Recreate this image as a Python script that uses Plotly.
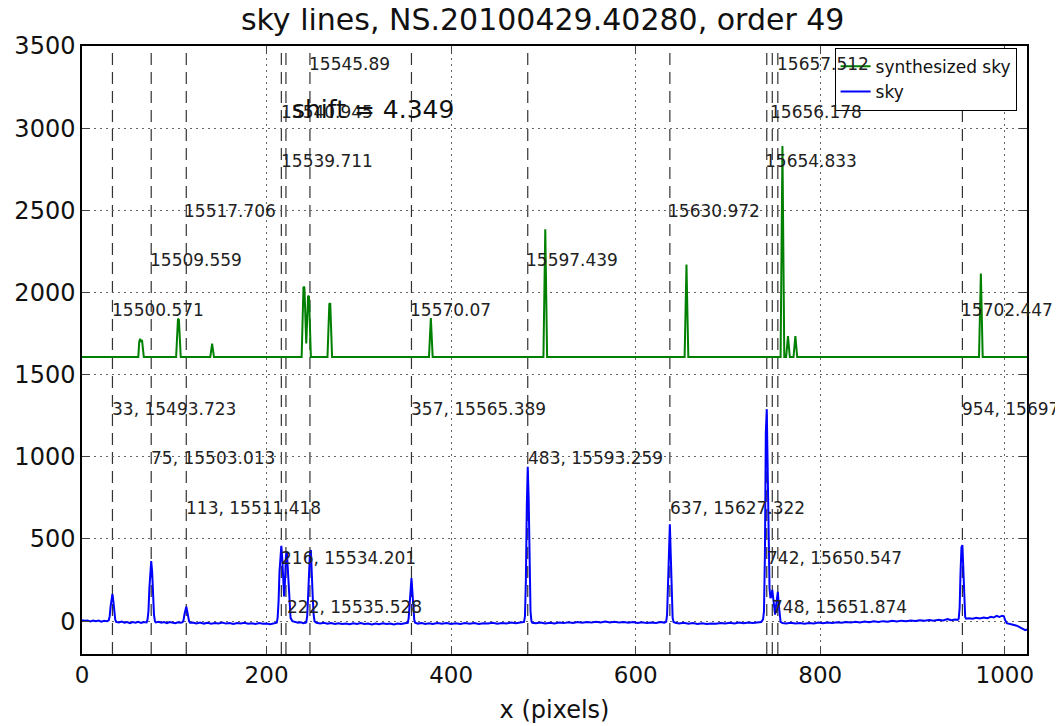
import plotly.graph_objects as go

# ---------------- data ----------------
sky_x = [0, 3, 6, 9, 12, 15, 18, 21, 24, 27, 29,
         30, 31, 32, 33, 34, 35, 36, 37,
         40, 43, 46, 49, 52, 55, 58, 61, 64, 67, 70, 71,
         72, 73, 74, 75, 76, 77, 78, 79, 80,
         83, 86, 89, 92, 95, 98, 101, 104, 107, 109,
         110, 111, 112, 113, 114, 115, 116, 117,
         120, 124, 128, 132, 136, 140, 144, 148, 152, 156, 160, 164, 168, 172, 176, 180, 184, 188, 192, 196, 200, 204, 208, 211,
         212, 213, 214, 215, 216, 217, 218, 219, 220, 221, 222, 223, 224, 225, 226, 228, 231,
         234, 237, 240, 243, 244,
         245, 246, 247, 248, 249, 250, 251, 252, 254,
         258, 262, 266, 270, 274, 278, 282, 286, 290, 294, 298, 302, 306, 310, 314, 318, 322, 326, 330, 334, 338, 342, 346, 350, 353,
         354, 355, 356, 357, 358, 359, 360, 361,
         364, 368, 372, 376, 380, 385, 390, 395, 400, 405, 410, 415, 420, 425, 430, 435, 440, 445, 450, 455, 460, 465, 470, 475, 479,
         480, 481, 482, 483, 484, 485, 486, 487, 488,
         492, 497, 502, 507, 512, 517, 522, 527, 532, 537, 542, 547, 552, 557, 562, 567, 572, 577, 582, 587, 592, 597, 602, 607, 612, 617, 622, 627, 631, 633,
         634, 635, 636, 637, 638, 639, 640, 641, 643,
         647, 652, 657, 662, 667, 672, 677, 682, 687, 692, 697, 702, 707, 712, 717, 722, 727, 732, 736, 738,
         739, 740, 741, 742, 743, 744, 745, 746, 747, 748, 749, 750, 751, 752, 753, 754, 755, 756, 757, 759,
         763, 768, 773, 778, 783, 788, 793, 798, 803, 808, 813, 818, 823, 828, 833, 838, 843, 848, 853, 858, 863, 868, 873, 878, 883, 888, 893, 898, 903, 908, 913, 918, 923, 928, 933, 938, 942, 946, 949, 950,
         951, 952, 953, 954, 955, 956, 957, 958,
         961, 965, 969, 973, 977, 981, 985, 988, 991, 994, 997, 999, 1000, 1002, 1005, 1008, 1011, 1014, 1017, 1020, 1022, 1024]
sky_y = [5, 2, 4, -2, 3, 0, 4, -3, 2, -1, 5,
         30, 90, 150, 165, 120, 50, 10, -5,
         -8, -3, -10, -5, -12, -6, -9, -4, -11, -6, -8, 10,
         60, 200, 330, 365, 300, 150, 40, 0, -8,
         -4, -10, -6, -12, -5, -9, -13, -7, -10, -6,
         5, 40, 75, 88, 60, 25, 0, -10,
         -8, -14, -9, -15, -10, -16, -11, -14, -9, -15, -12, -17, -11, -15, -10, -16, -13, -18, -12, -16, -14, -19, -13, -10,
         20, 120, 300, 430, 458, 380, 200, 150, 250, 400, 420, 320, 150, 60, 20, 0, -6,
         -10, -7, -12, -8, 30,
         150, 330, 420, 432, 330, 150, 40, 0, -10,
         -14, -10, -16, -12, -17, -13, -18, -14, -19, -13, -17, -12, -18, -14, -20, -15, -19, -13, -18, -14, -20, -15, -18, -13, -10,
         20, 120, 230, 262, 180, 70, 10, -10,
         -15, -11, -17, -13, -18, -12, -16, -11, -17, -13, -18, -12, -16, -11, -17, -13, -15, -10, -16, -12, -14, -9, -13, -8, -5,
         30, 250, 700, 940, 750, 300, 60, 0, -10,
         -13, -9, -15, -10, -14, -8, -12, -7, -11, -6, -10, -5, -9, -4, -8, -3, -8, -4, -9, -5, -10, -6, -11, -7, -12, -8, -11, -6, -9, -4,
         40, 250, 520, 590, 400, 120, 20, -5, -10,
         -14, -10, -16, -12, -17, -13, -18, -14, -16, -11, -15, -10, -14, -9, -13, -8, -12, -7, -5, 10,
         60, 400, 1150, 1290, 950, 420, 200, 140, 150, 190, 140, 60, 40, 90, 160, 178, 100, 20, -5, -12,
         -14, -10, -15, -11, -16, -12, -14, -9, -13, -8, -12, -7, -10, -5, -9, -4, -8, -3, -6, -1, -5, 0, -4, 2, -2, 3, 0, 4, 1, 6, 2, 7, 3, 8, 4, 12, 6, 10, 8, 15,
         80, 300, 450, 463, 300, 100, 25, 15,
         18, 14, 20, 16, 22, 18, 26, 22, 32, 25, 33, 30, 10, -12, -15, -20, -25, -30, -38, -45, -55, -50]

synth_x = [0, 61, 62, 63, 64, 65, 67,
           102, 104, 105, 107,
           139, 141, 143,
           238, 240, 241, 243, 245, 246, 248,
           266, 268, 269, 271,
           376, 378, 380,
           500, 502, 504,
           653, 655, 657,
           757, 759, 761, 763, 765, 767, 771, 773, 775,
           972, 974, 976, 1024]
synth_y = [1607, 1607, 1700, 1718, 1700, 1712, 1607,
           1607, 1840, 1835, 1607,
           1607, 1688, 1607,
           1607, 2035, 2030, 1690, 1980, 1975, 1607,
           1607, 1930, 1935, 1607,
           1607, 1845, 1607,
           1607, 2385, 1607,
           1607, 2170, 1607,
           1607, 2892, 1607, 1607, 1735, 1607, 1607, 1735, 1607,
           1607, 2115, 1607, 1607]

line_x = [33, 75, 113, 216, 221, 247, 357, 483, 637, 742, 748, 754, 954]

obs_label_x = [33, 75, 113, 216, 222, 357, 483, 637, 742, 748, 954]
obs_label_wl = ["15493.723", "15503.013", "15511.418", "15534.201", "15535.528",
                "15565.389", "15593.259", "15627.322", "15650.547", "15651.874", "15697.396"]
obs_label_y = [1290, 990, 690, 385, 85, 1290, 990, 690, 385, 85, 1290]

syn_label_x = [33, 74, 111, 216, 216, 246, 355, 481, 635, 740, 746, 753, 952]
syn_label_wl = ["15500.571", "15509.559", "15517.706", "15539.711", "15540.945", "15545.89",
                "15570.07", "15597.439", "15630.972", "15654.833", "15656.178", "15657.512", "15702.447"]
syn_label_y = [1896, 2196, 2497, 2798, 3098, 3392, 1896, 2196, 2497, 2798, 3098, 3392, 1896]

shift_text = "shift = 4.349"
shift_pos = (225, 3116)

title = "sky lines, NS.20100429.40280, order 49"
x_title = "x (pixels)"
x_ticks = [0, 200, 400, 600, 800, 1000]
y_ticks = [0, 500, 1000, 1500, 2000, 2500, 3000, 3500]

FONT = "DejaVu Sans"

fig = go.Figure()
fig.add_trace(go.Scatter(x=synth_x, y=synth_y, mode="lines", name="synthesized sky",
                         line=dict(color="#008000", width=2)))
fig.add_trace(go.Scatter(x=sky_x, y=sky_y, mode="lines", name="sky",
                         line=dict(color="#0000ff", width=2)))

for lx in line_x:
    fig.add_shape(type="line", xref="x", yref="paper", x0=lx, x1=lx, y0=0, y1=1,
                  line=dict(color="#333333", width=1.2, dash="12px,7px"), layer="below")

anns = []
for x, wl, y in zip(obs_label_x, obs_label_wl, obs_label_y):
    anns.append(dict(x=x, y=y, text=f"{x}, {wl}", showarrow=False, xanchor="left",
                     yanchor="middle", xshift=-2, font=dict(family=FONT, size=17, color="#222")))
for x, wl, y in zip(syn_label_x, syn_label_wl, syn_label_y):
    anns.append(dict(x=x, y=y, text=wl, showarrow=False, xanchor="left",
                     yanchor="middle", xshift=-2, font=dict(family=FONT, size=17, color="#222")))
anns.append(dict(x=shift_pos[0], y=shift_pos[1], text=shift_text, showarrow=False,
                 xanchor="left", yanchor="middle", font=dict(family=FONT, size=25, color="#111")))

fig.update_layout(
    width=1063, height=726,
    margin=dict(l=74, r=44, t=38, b=80, autoexpand=False),
    paper_bgcolor="white", plot_bgcolor="white",
    font=dict(family=FONT, color="#111"),
    title=dict(text=title, x=0.503, xanchor="center", y=0.9835, yanchor="middle",
               font=dict(family=FONT, size=30, color="#111")),
    annotations=anns,
    legend=dict(x=0.989, xanchor="right", y=0.997, yanchor="top",
                bgcolor="white", bordercolor="black", borderwidth=1,
                font=dict(family=FONT, size=17, color="#111"), itemwidth=30),
    showlegend=True,
)
fig.update_xaxes(range=[0, 1024], tickvals=x_ticks, ticks="inside", ticklen=8,
                 mirror="allticks", showline=True, linecolor="black", linewidth=1.5,
                 showgrid=True, gridcolor="#666", griddash="2px,4px", gridwidth=1,
                 zeroline=False, automargin=False, tickfont=dict(family=FONT, size=23, color="#111"),
                 title=dict(text=x_title, font=dict(family=FONT, size=24, color="#111"), standoff=14))
fig.update_yaxes(range=[-200, 3500], tickvals=y_ticks, ticks="inside", ticklen=8,
                 mirror="allticks", showline=True, linecolor="black", linewidth=1.5,
                 showgrid=True, gridcolor="#666", griddash="2px,4px", gridwidth=1,
                 zeroline=False, automargin=False, tickfont=dict(family=FONT, size=24, color="#111"))

fig.write_html("out.html")
